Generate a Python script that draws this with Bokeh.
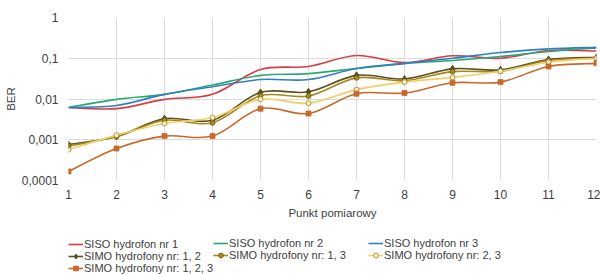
import numpy as np
from bokeh.plotting import figure
from bokeh.layouts import column
from bokeh.models import (FixedTicker, Range1d, Legend, LegendItem, ColumnDataSource)
from bokeh.embed import file_html
from bokeh.resources import INLINE

points = list(range(1, 13))
siso_1 = [0.0062, 0.0058, 0.0098, 0.013, 0.053, 0.063, 0.117, 0.078, 0.115, 0.10, 0.155, 0.15]
siso_2 = [0.0062, 0.0098, 0.013, 0.022, 0.038, 0.042, 0.056, 0.074, 0.088, 0.11, 0.146, 0.18]
siso_3 = [0.0062, 0.0069, 0.013, 0.020, 0.030, 0.030, 0.056, 0.075, 0.10, 0.138, 0.17, 0.185]
simo_12 = [0.00076, 0.0012, 0.0033, 0.0030, 0.0145, 0.015, 0.038, 0.031, 0.055, 0.052, 0.093, 0.105]
simo_13 = [0.00070, 0.0012, 0.0030, 0.0026, 0.012, 0.0118, 0.033, 0.028, 0.047, 0.048, 0.088, 0.10]
simo_23 = [0.00057, 0.0013, 0.0025, 0.0035, 0.0098, 0.0079, 0.017, 0.026, 0.034, 0.048, 0.080, 0.10]
simo_123 = [0.000167, 0.00061, 0.00123, 0.00123, 0.0058, 0.0044, 0.0135, 0.014, 0.025, 0.026, 0.063, 0.075]

labels = ["SISO hydrofon nr 1", "SISO hydrofon nr 2", "SISO hydrofon nr 3",
          "SIMO hydrofony nr: 1, 2", "SIMO hydrofony nr: 1, 3", "SIMO hydrofony nr: 2, 3",
          "SIMO hydrofony nr: 1, 2, 3"]
series = [siso_1, siso_2, siso_3, simo_12, simo_13, simo_23, simo_123]
colors = ["#d93a3f", "#2aa674", "#2f7fc1", "#5c5220", "#a8891c", "#f0cf66", "#c8692b"]
markers = [None, None, None, "diamond", "circle", "circle", "square"]
fills = [None, None, None, "#5c5220", "#a8891c", "#fbeeb8", "#c8692b"]
line_cols = [None, None, None, "#3f3812", "#6e5a10", "#9a8438", "#c8692b"]

y_ticks = [0.0001, 0.001, 0.01, 0.1, 1]
y_tick_labels = ["0,0001", "0,001", "0,01", "0,1", "1"]

FONT = "Liberation Sans"

p = figure(width=600, height=225, output_backend="svg", toolbar_location=None,
           y_axis_type="log", x_range=Range1d(1, 12), y_range=Range1d(0.0001, 1),
           min_border_left=68, min_border_right=4, min_border_top=17, min_border_bottom=45)
p.outline_line_color = None
p.background_fill_color = "white"

p.xaxis.ticker = FixedTicker(ticks=points)
p.yaxis.ticker = FixedTicker(ticks=y_ticks)
p.yaxis.major_label_overrides = {t: l for t, l in zip(y_ticks, y_tick_labels)}
p.xaxis.major_label_overrides = {i: str(i) for i in points}
for ax in [p.xaxis[0], p.yaxis[0]]:
    ax.axis_line_color = None
    ax.major_tick_line_color = None
    ax.minor_tick_line_color = None
    ax.major_tick_out = 0
    ax.major_tick_in = 0
    ax.minor_tick_out = 0
    ax.major_label_text_font = FONT
    ax.major_label_text_font_size = "12px"
    ax.major_label_text_color = "#404040"
    ax.axis_label_text_font = FONT
    ax.axis_label_text_font_size = "11.5px"
    ax.axis_label_text_font_style = "normal"
    ax.axis_label_text_color = "#404040"
p.xaxis.major_label_standoff = 9
p.yaxis.major_label_standoff = 10
p.xaxis.axis_label = "Punkt pomiarowy"
p.xaxis.axis_label_standoff = 5
p.yaxis.axis_label = "BER"
p.yaxis.axis_label_standoff = 2
p.xgrid.grid_line_color = "#dcdcdc"
p.ygrid.grid_line_color = "#dcdcdc"
p.ygrid.minor_grid_line_color = None


def smooth(xs, ys):
    # Catmull-Rom style bezier control points in (x, log10 y) space
    lx = np.array(xs, dtype=float)
    ly = np.log10(np.array(ys, dtype=float))
    n = len(lx)
    out = {k: [] for k in ["x0", "y0", "x1", "y1", "cx0", "cy0", "cx1", "cy1"]}
    for i in range(n - 1):
        ip = max(i - 1, 0)
        inx = min(i + 2, n - 1)
        out["x0"].append(lx[i]); out["y0"].append(10 ** ly[i])
        out["x1"].append(lx[i + 1]); out["y1"].append(10 ** ly[i + 1])
        out["cx0"].append(lx[i] + (lx[i + 1] - lx[ip]) / 6)
        out["cy0"].append(10 ** (ly[i] + (ly[i + 1] - ly[ip]) / 6))
        out["cx1"].append(lx[i + 1] - (lx[inx] - lx[i]) / 6)
        out["cy1"].append(10 ** (ly[i + 1] - (ly[inx] - ly[i]) / 6))
    return out


# legend strip (separate figure below the chart)
lg = figure(width=600, height=50, output_backend="svg", toolbar_location=None,
            x_axis_type=None, y_axis_type=None, x_range=Range1d(0, 1), y_range=Range1d(0, 1),
            min_border=0, min_border_left=0, min_border_right=0,
            min_border_top=0, min_border_bottom=0)
lg.outline_line_color = None
lg.xgrid.visible = False
lg.ygrid.visible = False

items = []
for lab, ys, col, mk, fc, lc in zip(labels, series, colors, markers, fills, line_cols):
    src = ColumnDataSource(smooth(points, ys))
    p.bezier(x0="x0", y0="y0", x1="x1", y1="y1", cx0="cx0", cy0="cy0", cx1="cx1", cy1="cy1",
             source=src, line_color=col, line_width=1.6)
    if mk is not None:
        p.scatter(points, ys, marker=mk, size=5 if mk != "diamond" else 7,
                  fill_color=fc, line_color=lc, line_width=0.8)
    # legend proxies
    rs = [lg.line(points, ys, line_color=col, line_width=1.6, visible=False)]
    if mk is not None:
        rs.append(lg.scatter(points, ys, marker=mk, size=5 if mk != "diamond" else 7,
                             fill_color=fc, line_color=lc, line_width=0.8, visible=False))
    items.append(LegendItem(label=lab, renderers=rs))

columns = [[0, 3, 6], [1, 4], [2, 5]]
col_x = [0, 145, 300]
col_y = [1, 14, 14]
for idxs, cx, cy in zip(columns, col_x, col_y):
    leg = Legend(items=[items[i] for i in idxs], location=(cx, cy),
                 orientation="vertical",
                 label_text_font=FONT, label_text_font_size="11px", label_text_color="#404040",
                 glyph_width=15, glyph_height=12, label_height=12, label_standoff=1,
                 spacing=0, padding=0, margin=0, border_line_color=None,
                 background_fill_alpha=0)
    lg.add_layout(leg, "center")

layout = column(p, lg, spacing=0)
open("out.html", "w").write(file_html(layout, INLINE))
